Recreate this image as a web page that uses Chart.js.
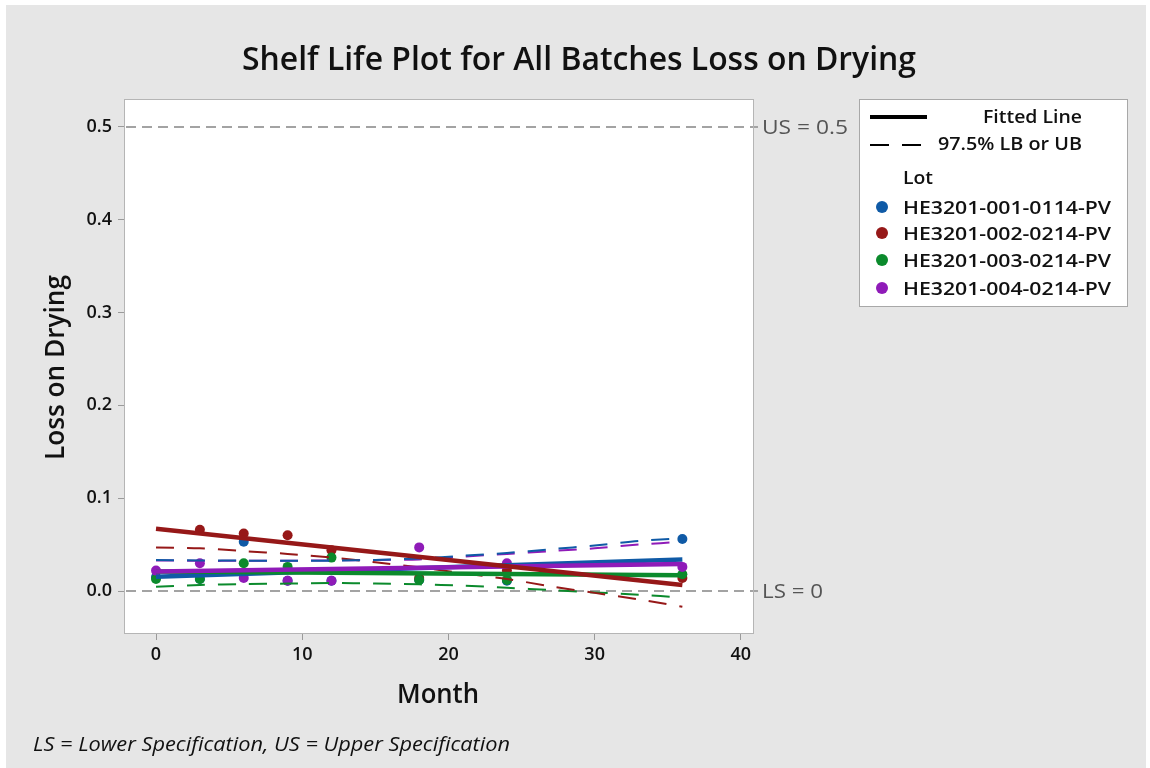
<!DOCTYPE html>
<html><head><meta charset="utf-8">
<script src="https://cdn.jsdelivr.net/npm/chart.js@4.4.1/dist/chart.umd.min.js"></script>
<style>html,body{margin:0;padding:0;background:#fff;}canvas{display:block;}</style>
</head><body>
<canvas id="c" width="1150" height="768"></canvas>
<script>
// ---- data ----
const months = [0, 3, 6, 9, 12, 18, 24, 36];
const monthsLot2 = [3, 6, 9, 12, 18, 24, 36];
const lot1Values = [0.015, 0.013, 0.053, 0.011, 0.011, 0.012, 0.011, 0.056];
const lot2Values = [0.066, 0.062, 0.060, 0.044, 0.014, 0.022, 0.014];
const lot3Values = [0.013, 0.013, 0.030, 0.026, 0.036, 0.012, 0.012, 0.018];
const lot4Values = [0.022, 0.030, 0.014, 0.011, 0.011, 0.047, 0.030, 0.026];

const fitMonths = [0, 36];
const lot1Fit = [0.0155, 0.034];
const lot2Fit = [0.067, 0.0065];
const lot3Fit = [0.021, 0.017];
const lot4Fit = [0.021, 0.029];

const boundMonths = [0, 3, 6, 9, 12, 15, 18, 21, 24, 27, 30, 33, 36];
const lot1Bound = [0.0334, 0.033, 0.0327, 0.0325, 0.0327, 0.0335, 0.035, 0.038, 0.041, 0.045, 0.049, 0.054, 0.057];
const lot2Bound = [0.047, 0.046, 0.043, 0.040, 0.036, 0.031, 0.0255, 0.019, 0.013, 0.005, -0.002, -0.009, -0.017];
const lot3Bound = [0.0046, 0.0065, 0.0075, 0.008, 0.0086, 0.008, 0.0072, 0.0058, 0.0035, 0.001, -0.0015, -0.004, -0.007];
const lot4Bound = [0.033, 0.0325, 0.0325, 0.0325, 0.033, 0.0335, 0.034, 0.037, 0.040, 0.043, 0.046, 0.050, 0.053];

const lotNames = ['HE3201-001-0114-PV', 'HE3201-002-0214-PV', 'HE3201-003-0214-PV', 'HE3201-004-0214-PV'];
const xTicks = [0, 10, 20, 30, 40];
const yTicks = [0.0, 0.1, 0.2, 0.3, 0.4, 0.5];
const specLabels = ['US = 0.5', 'LS = 0'];
const specValues = [0.5, 0];
const titleText = 'Shelf Life Plot for All Batches Loss on Drying';
const xTitle = 'Month';
const yTitle = 'Loss on Drying';
const footText = 'LS = Lower Specification, US = Upper Specification';
const legendFit = 'Fitted Line';
const legendBound = '97.5% LB or UB';
const legendLot = 'Lot';

// ---- styles ----
const colors = ['#0f5aa6', '#961818', '#0b8a2c', '#8f1bb8'];
const FONT = '"Open Sans", "Noto Sans", sans-serif';

const lotX = [months, monthsLot2, months, months];
const lotY = [lot1Values, lot2Values, lot3Values, lot4Values];
const fitY = [lot1Fit, lot2Fit, lot3Fit, lot4Fit];
const boundY = [lot1Bound, lot2Bound, lot3Bound, lot4Bound];
const pts = (xs, ys) => xs.map((x, i) => ({x: x, y: ys[i]}));

const datasets = [];
const fitOrder = [13, 10, 12, 11];
const pointOrder = [34, 33, 32, 31];
for (let i = 0; i < 4; i++) {
  datasets.push({label: lotNames[i], data: pts(lotX[i], lotY[i]), showLine: false,
    pointRadius: 5, pointBackgroundColor: colors[i], pointBorderWidth: 0, pointBorderColor: colors[i], order: pointOrder[i]});
  datasets.push({label: lotNames[i] + ' bound', data: pts(boundMonths, boundY[i]), showLine: true,
    borderColor: colors[i], borderWidth: 2, borderDash: [18, 13], pointRadius: 0, tension: 0.3, order: 20});
  datasets.push({label: lotNames[i] + ' fit', data: pts(fitMonths, fitY[i]), showLine: true,
    borderColor: colors[i], borderWidth: 4.5, pointRadius: 0, order: fitOrder[i]});
}

function fitText(ctx, text, x, y, w, font, align, color) {
  ctx.save();
  ctx.font = font; ctx.fillStyle = color; ctx.textBaseline = 'alphabetic';
  const m = ctx.measureText(text).width;
  ctx.translate(x, y); ctx.scale(w / m, 1);
  ctx.textAlign = align; ctx.fillText(text, 0, 0);
  ctx.restore();
}

const decor = {
  id: 'decor',
  beforeDraw(chart) {
    const ctx = chart.ctx, a = chart.chartArea;
    ctx.save();
    ctx.fillStyle = '#ffffff'; ctx.fillRect(0, 0, 1150, 768);
    ctx.fillStyle = '#e6e6e6'; ctx.fillRect(6, 5, 1140, 763);
    ctx.fillStyle = '#ffffff'; ctx.fillRect(a.left, a.top, a.right - a.left, a.bottom - a.top);
    // spec reference lines
    const ys = chart.scales.y;
    ctx.strokeStyle = '#a3a3a3'; ctx.lineWidth = 2; ctx.setLineDash([10, 6]);
    specValues.forEach(v => {
      const py = Math.round(ys.getPixelForValue(v));
      ctx.beginPath(); ctx.moveTo(a.left + 2, py); ctx.lineTo(a.right + 4, py); ctx.stroke();
    });
    ctx.restore();
  },
  afterDraw(chart) {
    const ctx = chart.ctx, a = chart.chartArea;
    const ys = chart.scales.y;
    ctx.save();
    ctx.strokeStyle = '#b5b5b5'; ctx.lineWidth = 1;
    ctx.strokeRect(a.left + 0.5, a.top + 0.5, a.right - a.left - 1, a.bottom - a.top - 1);
    // spec labels
    specValues.forEach((v, i) => {
      const py = ys.getPixelForValue(v);
      const w = i === 0 ? 86 : 61;
      fitText(ctx, specLabels[i], 762, py + 7, w, '400 20px ' + FONT, 'left', '#555555');
    });
    // title
    fitText(ctx, titleText, 242, 70, 674, '600 32px ' + FONT, 'left', '#111111');
    // axis titles
    fitText(ctx, xTitle, 397, 703, 82, '600 27px ' + FONT, 'left', '#111111');
    ctx.save();
    ctx.translate(64, 460); ctx.rotate(-Math.PI / 2);
    fitText(ctx, yTitle, 0, 0, 185, '600 27px ' + FONT, 'left', '#111111');
    ctx.restore();
    // footnote
    fitText(ctx, footText, 33, 751, 477, 'italic 400 20px ' + FONT, 'left', '#111111');
    // legend
    ctx.fillStyle = '#ffffff'; ctx.fillRect(859, 99, 268, 207);
    ctx.strokeStyle = '#a8a8a8'; ctx.lineWidth = 1; ctx.strokeRect(859.5, 99.5, 268, 207);
    ctx.strokeStyle = '#000000'; ctx.lineWidth = 4;
    ctx.beginPath(); ctx.moveTo(870, 117); ctx.lineTo(927, 117); ctx.stroke();
    ctx.lineWidth = 2;
    ctx.beginPath(); ctx.moveTo(870, 145); ctx.lineTo(889, 145); ctx.moveTo(902, 145); ctx.lineTo(921, 145); ctx.stroke();
    fitText(ctx, legendFit, 983, 123, 99, '600 18px ' + FONT, 'left', '#111111');
    fitText(ctx, legendBound, 938, 150, 144, '600 18px ' + FONT, 'left', '#111111');
    fitText(ctx, legendLot, 903, 184, 30, '600 18px ' + FONT, 'left', '#111111');
    const rowY = [207, 233, 260, 288];
    lotNames.forEach((n, i) => {
      ctx.fillStyle = colors[i];
      ctx.beginPath(); ctx.arc(882, rowY[i], 6, 0, Math.PI * 2); ctx.fill();
      fitText(ctx, n, 903, rowY[i] + 6.5, 208, '600 18px ' + FONT, 'left', '#111111');
    });
    ctx.restore();
  }
};

new Chart(document.getElementById('c'), {
  type: 'scatter',
  data: {datasets: datasets},
  options: {
    responsive: false, animation: false, devicePixelRatio: 1,
    layout: {padding: {left: 0, top: 99, right: 396, bottom: 0}},
    plugins: {legend: {display: false}, tooltip: {enabled: false}, title: {display: false}},
    scales: {
      x: {
        type: 'linear', min: -2.19, max: 40.9,
        afterBuildTicks: s => { s.ticks = xTicks.map(v => ({value: v})); },
        afterFit: s => { s.height = 134; },
        grid: {drawOnChartArea: false, drawTicks: true, tickLength: 6, color: '#9a9a9a'},
        border: {display: false},
        ticks: {padding: 4, color: '#111111', font: {family: FONT, size: 18, weight: '600'}, callback: v => String(v), maxRotation: 0}
      },
      y: {
        type: 'linear', min: -0.0463, max: 0.530,
        afterBuildTicks: s => { s.ticks = yTicks.map(v => ({value: v})); },
        afterFit: s => { s.width = 124; },
        grid: {drawOnChartArea: false, drawTicks: true, tickLength: 6, color: '#9a9a9a'},
        border: {display: false},
        ticks: {padding: 6, color: '#111111', font: {family: FONT, size: 18, weight: '600'}, callback: v => Number(v).toFixed(1)}
      }
    }
  },
  plugins: [decor]
});
</script>
</body></html>
